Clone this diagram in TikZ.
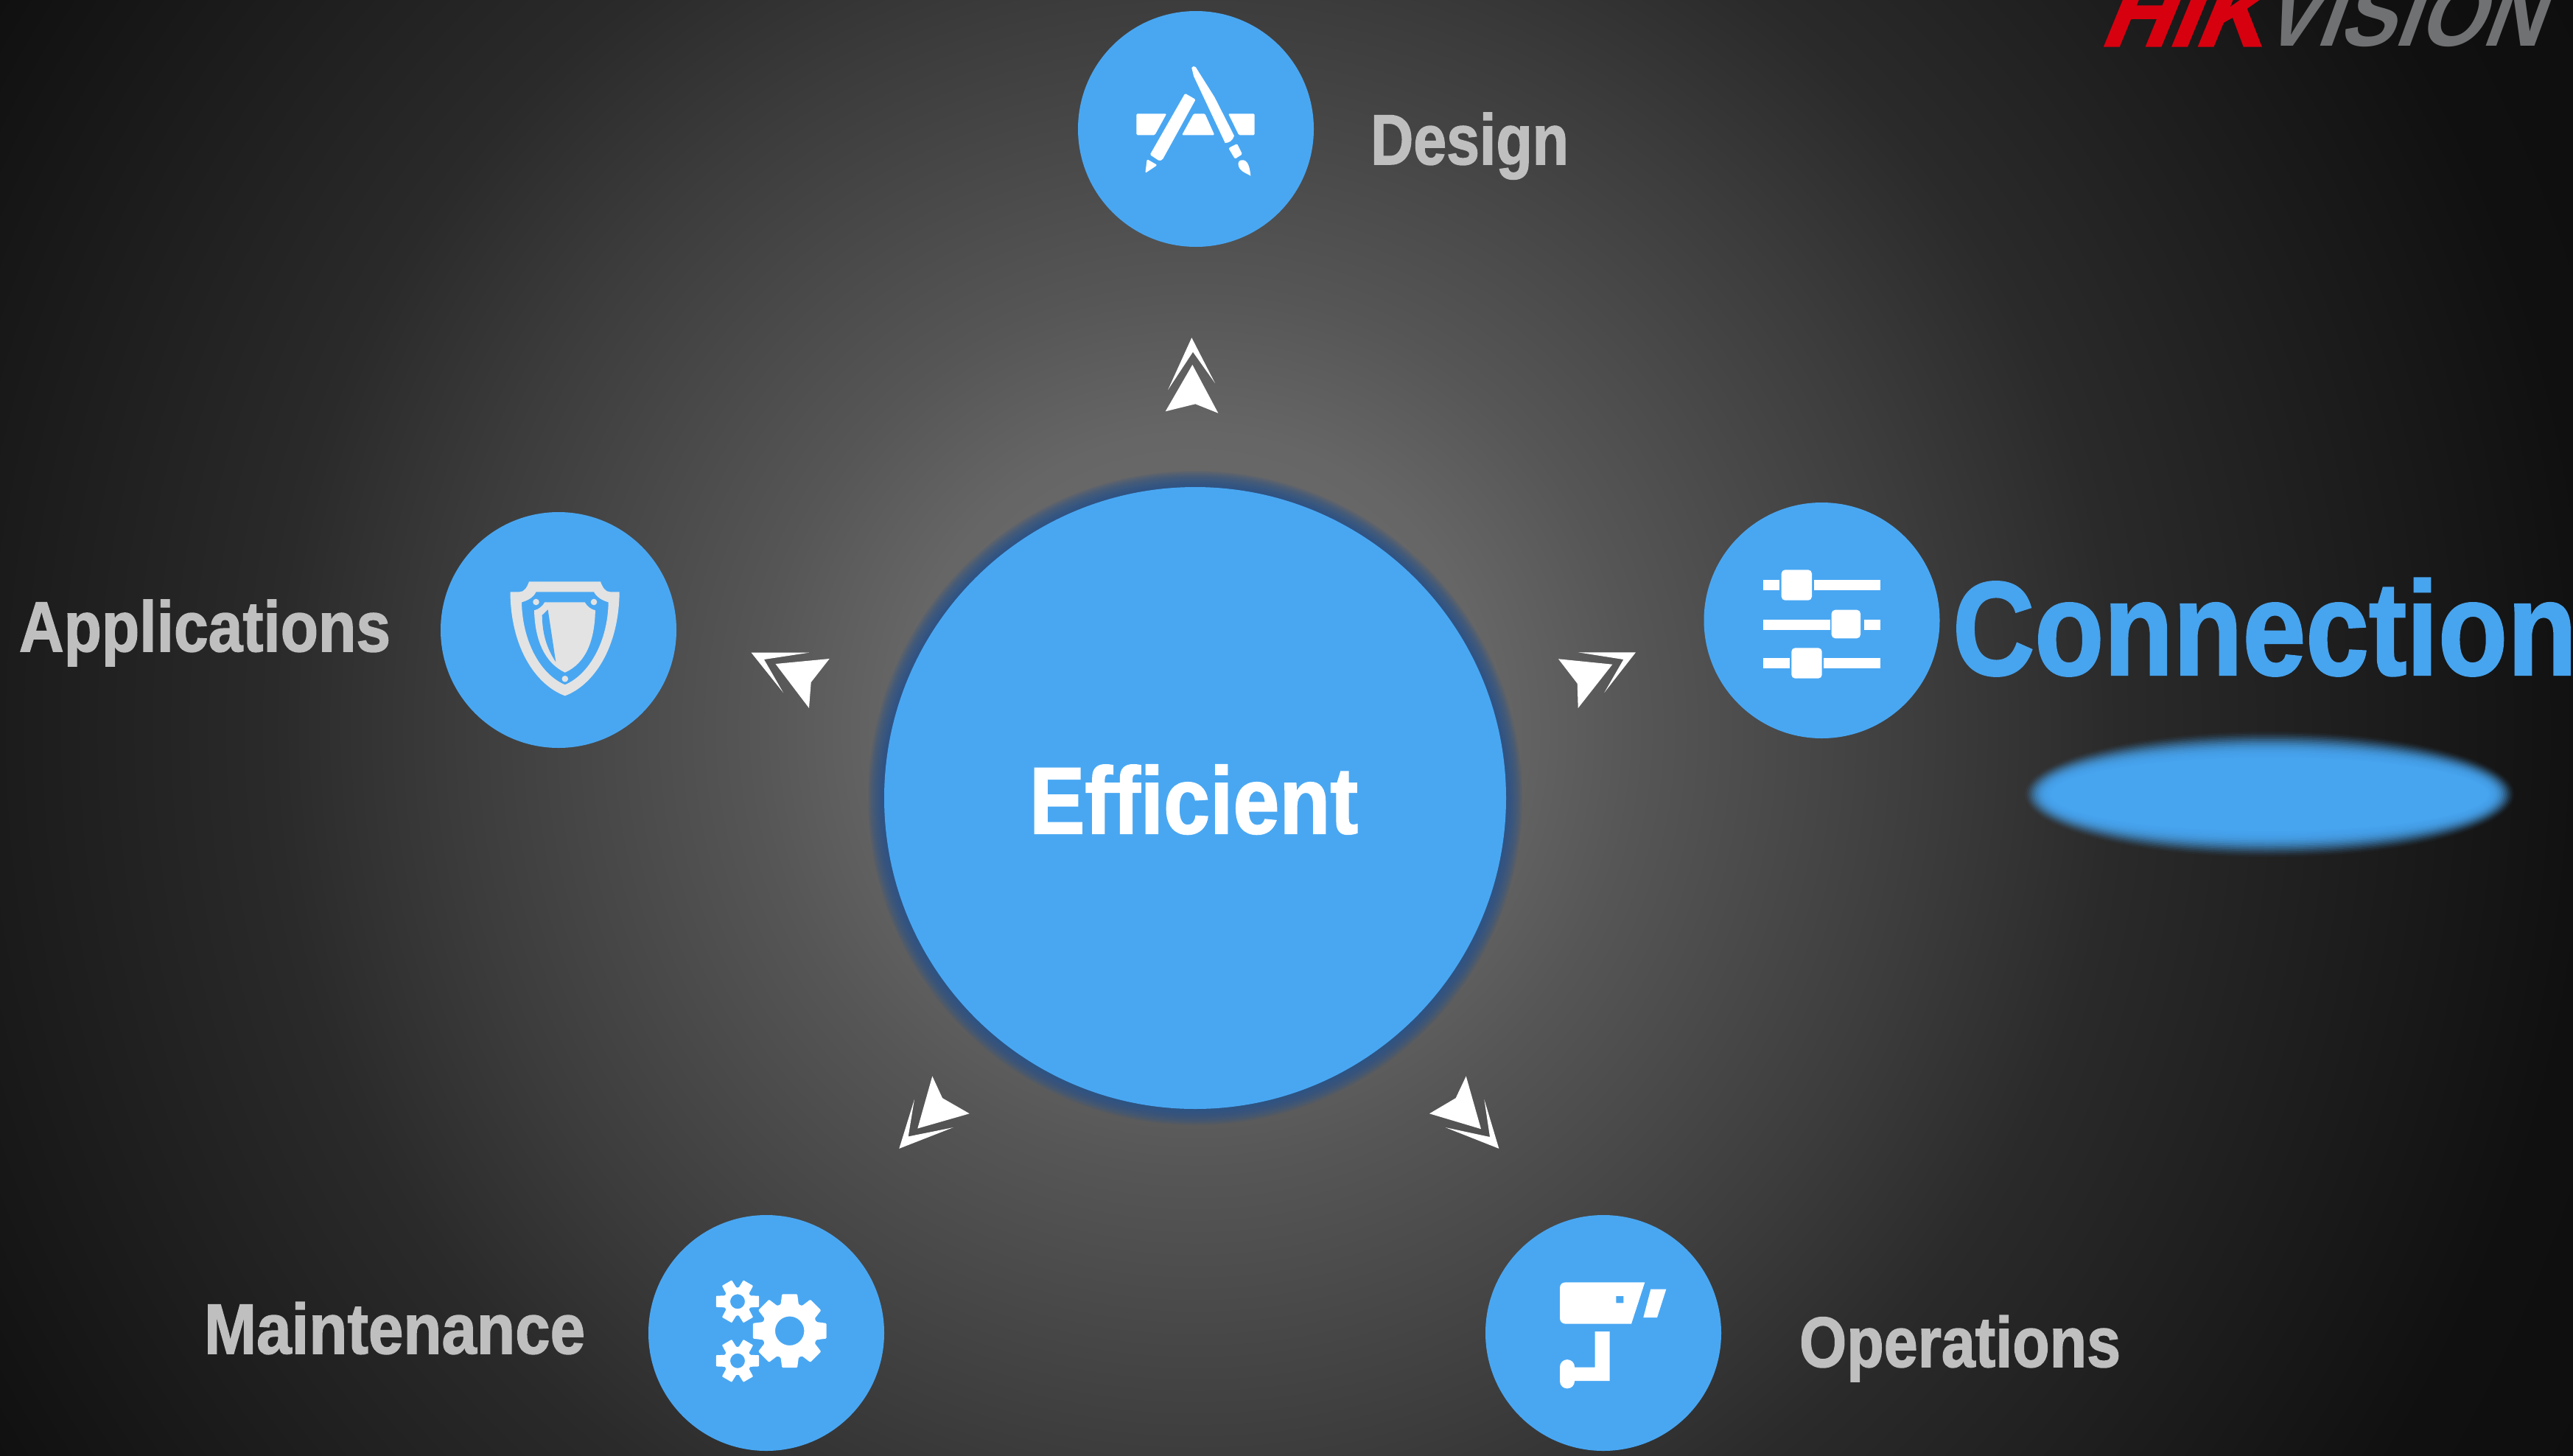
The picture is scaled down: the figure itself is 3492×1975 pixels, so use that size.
\documentclass[tikz,border=0pt]{standalone}
\usepackage{fontspec}
\usepackage{graphicx}
\setmainfont[UprightFont=* Bold,BoldFont=* Bold,FakeBold=1.6]{Liberation Sans}
\newfontfamily\hikfont[UprightFont=* Bold,BoldFont=* Bold,FakeSlant=0.41,FakeBold=2.5]{Liberation Sans}
\newfontfamily\visfont[UprightFont=* Bold,BoldFont=* Bold,FakeSlant=0.41]{Liberation Sans}
\definecolor{hubblue}{HTML}{49A7F2}
\definecolor{textblue}{HTML}{47A4EF}
\definecolor{glowblue}{HTML}{28538F}
\definecolor{labelgrey}{HTML}{BFBFBF}
\definecolor{shieldgrey}{HTML}{E3E3E3}
\definecolor{logored}{HTML}{D7000F}
\definecolor{logogrey}{HTML}{707173}
\pgfdeclareradialshading{bgshade}{\pgfpoint{0bp}{0bp}}{%
 rgb(0bp)=(0.44,0.44,0.44);
 rgb(4.35bp)=(0.40,0.40,0.40);
 rgb(6.5bp)=(0.337,0.337,0.337);
 rgb(10.85bp)=(0.235,0.235,0.235);
 rgb(13.6bp)=(0.165,0.165,0.165);
 rgb(20.65bp)=(0.063,0.063,0.063);
 rgb(25bp)=(0.05,0.05,0.05);
 rgb(50bp)=(0.05,0.05,0.05)}
\tikzset{
 hub/.style={circle,fill=hubblue,inner sep=0pt,minimum size=32mm},
 corehub/.style={circle,fill=hubblue,inner sep=0pt,minimum size=84.4mm},
 lbl/.style={anchor=base west,inner sep=0pt,outer sep=0pt,text=labelgrey},
 arrowfill/.style={fill=white},
 iconfill/.style={fill=white},
}
\begin{document}
\begin{tikzpicture}[x=0.1mm,y=-0.1mm]
\clip (0,0) rectangle (3492,1975);
\fill[black!95] (0,0) rectangle (3492,1975);
\shade[shading=bgshade] (1622,990) circle (2300);
% centre glow
\foreach \r in {444,442.5,441,439.5,438,436.5,435,433.5,432,430.5,429,427.5,426,424.5,423}
  \fill[glowblue,opacity=0.11] (1622,1083) circle (\r);
\node[corehub] (eff) at (1622,1083) {};
\node[lbl,text=white] (efftext) at (1397,1131) {\resizebox{44.6mm}{9.3mm}{Efficient}};
% outer hubs
\node[hub] (design) at (1623,175) {};
\node[hub] (conn) at (2472.5,842) {};
\node[hub] (apps) at (758,855) {};
\node[hub] (maint) at (1040,1809) {};
\node[hub] (oper) at (2176,1809) {};
% labels
\node[lbl] (designtext) at (1860,223) {\resizebox{26.9mm}{7mm}{Design}};
\node[lbl] (appstext) at (26,884) {\resizebox{50.4mm}{7mm}{Applications}};
\node[lbl] (mainttext) at (277,1837) {\resizebox{51.7mm}{7mm}{Maintenance}};
\node[lbl] (opertext) at (2442,1855) {\resizebox{43.6mm}{7mm}{Operations}};
\node[lbl,text=textblue] (conntext) at (2650,915.7) {\resizebox{84.7mm}{13.1mm}{Connection}};
% blurred ellipse
\foreach \k in {0,...,14}{
  \pgfmathsetmacro{\ringop}{0.05+\k*0.035}
  \fill[textblue,opacity=\ringop] (3080,1078) ellipse ({332-\k*2.5} and {85-\k*2.5});
}
\fill[textblue] (3080,1078) ellipse (297 and 50);
% logo
\node[anchor=base west,inner sep=0pt,text=logored,font=\hikfont] (hik) at (2848,62) {\resizebox{22mm}{8.8mm}{HIK}};
\node[anchor=base west,inner sep=0pt,text=logogrey,font=\visfont] (vis) at (3066,62) {\resizebox{38.1mm}{8.8mm}{VISION}};
% arrows
\fill[arrowfill] (1618.3,495) -- (1653.3,560.7) -- (1622.3,548.3) -- (1581.7,558.3) -- cycle;
\fill[arrowfill] (1617.3,458.3) -- (1649,520) -- (1619,477.7) -- (1585,529.3) -- cycle;
\fill[arrowfill] (2115,894.3) -- (2188.3,901.7) -- (2141.7,961) -- (2140.7,927.7) -- cycle;
\fill[arrowfill] (2141.7,885.3) -- (2220,885.3) -- (2177.3,940) -- (2203.3,895) -- cycle;
\fill[arrowfill] (1052.5,901) -- (1125.7,894) -- (1100.7,926) -- (1098,961) -- cycle;
\fill[arrowfill] (1019.6,885.7) -- (1098,885.7) -- (1037,895) -- (1063,940) -- cycle;
\fill[arrowfill] (1245.3,1531.5) -- (1265.3,1460.5) -- (1279,1490.2) -- (1315.7,1511.3) -- cycle;
\fill[arrowfill] (1220.3,1558.8) -- (1241,1491.9) -- (1232.7,1542.4) -- (1293.7,1530.1) -- cycle;
\fill[arrowfill] (2010,1532.2) -- (1989.7,1460.5) -- (1975.7,1490.2) -- (1940,1511.3) -- cycle;
\fill[arrowfill] (2034.3,1558.8) -- (2014.3,1491.9) -- (2022,1543) -- (1961.7,1530.1) -- cycle;
% design icon
\begin{scope}[iconfill,rounded corners=0.15mm]
\fill (1542.3,154.3) -- (1583.3,154.3) -- (1567.3,183.3) -- (1542.3,183.3) -- cycle;
\fill (1620,154.3) -- (1635.3,154.3) -- (1648.3,183.3) -- (1604,183.3) -- cycle;
\fill (1667,154.3) -- (1702.7,154.3) -- (1702.7,183.3) -- (1681.3,183.3) -- cycle;
\fill (1608.3,126.7) -- (1622.7,135) -- (1577.7,216.7) -- (1573.3,218.3) -- (1560.7,210) -- cycle;
\fill (1556.7,216) -- (1570.7,224) -- (1554.3,235) -- cycle;
\fill (1667.3,201) -- (1679,195) -- (1686,209.3) -- (1676,215.7) -- cycle;
\end{scope}
\fill[iconfill] (1617.3,92) .. controls (1618,89.5) and (1621,89.5) .. (1622.7,91) -- (1648.3,131.7) -- (1675,184.3) .. controls (1673,191) and (1668,194) .. (1662.7,194) -- (1620,103.3) -- cycle;
\fill[iconfill] (1680.7,224) .. controls (1680,220) and (1682,217) .. (1686,217.3) .. controls (1693,217) and (1696,225) .. (1697.3,238.7) .. controls (1692,235) and (1682,233) .. cycle;
% sliders icon
\begin{scope}[iconfill]
\fill (2393,787) rectangle (2415,801);
\fill (2461.7,787) rectangle (2552,801);
\fill (2393,841.3) rectangle (2483.7,855.3);
\fill (2530,841.3) rectangle (2552,855.3);
\fill (2393,893.3) rectangle (2429,907);
\fill (2475.3,893.3) rectangle (2552,907);
\fill[rounded corners=0.5mm] (2417.7,773.3) rectangle (2459,814.7);
\fill[rounded corners=0.5mm] (2485.7,827.7) rectangle (2525,866.3);
\fill[rounded corners=0.5mm] (2431.3,879.3) rectangle (2472.7,920.7);
\end{scope}
% shield icon
\fill[shieldgrey,even odd rule]
 (718,789.3) -- (815,789.3) .. controls (818,798) and (822,803.3) .. (828,803.3) -- (840.7,803.3)
 .. controls (840,880) and (805,930) .. (766.8,944.3) .. controls (728,930) and (693,880) .. (692.5,803.3)
 -- (705,803.3) .. controls (711,803.3) and (715,798) .. cycle
 (727.5,803.3) -- (806,803.3) .. controls (810,811) and (818,815) .. (825.7,817.3)
 .. controls (825,870) and (800,915) .. (766.8,929.3) .. controls (733,915) and (709,870) .. (708,817.3)
 .. controls (716,815) and (724,811) .. cycle;
\fill[shieldgrey] (739.3,817.3) -- (793.6,817.3) .. controls (797,823) and (802,827) .. (807.9,828.3)
 .. controls (807,870) and (795,900) .. (766.8,912.7) .. controls (740,900) and (726,870) .. (725,828.3)
 .. controls (731,827) and (736,823) .. cycle;
\fill[hubblue] (743.6,827.3) -- (735.7,835) .. controls (736,860) and (742,880) .. (754.3,898.3) -- cycle;
\fill[shieldgrey] (727.5,817) circle (4.3) (806,817) circle (4.3) (766.8,921.3) circle (4.3);
% gears
\begin{scope}[shift={(1071.7,1806.2)}]
\fill[iconfill,even odd rule,rounded corners=0.12mm]
 (-18.7:38) foreach \a in {0,45,...,315} { -- (\a-18.7:38) -- (\a-11.7:51) -- (\a+11.7:51) -- (\a+18.7:38) } -- cycle
 (0:0) circle (19.7);
\end{scope}
\begin{scope}[shift={(1001,1766.3)}]
\fill[iconfill,even odd rule,rounded corners=0.08mm]
 (-25:19) foreach \a in {0,60,...,300} { -- (\a-25:19) -- (\a-14.7:30) -- (\a+14.7:30) -- (\a+25:19) } -- cycle
 (0:0) circle (10);
\end{scope}
\begin{scope}[shift={(1001,1846.8)}]
\fill[iconfill,even odd rule,rounded corners=0.08mm]
 (-25:19) foreach \a in {0,60,...,300} { -- (\a-25:19) -- (\a-14.7:30) -- (\a+14.7:30) -- (\a+25:19) } -- cycle
 (0:0) circle (10);
\end{scope}
% camera icon
\fill[iconfill,even odd rule] (2125,1740.3) -- (2232.3,1740.3) -- (2214,1796.7) -- (2125,1796.7) .. controls (2120,1796.7) and (2117,1793) .. (2117,1789) -- (2117,1748) .. controls (2117,1743) and (2120,1740.3) .. cycle
 (2193.3,1758.8) rectangle (2203.3,1768.3);
\fill[iconfill] (2240.3,1749.6) -- (2261.3,1749.6) -- (2249,1788.1) -- (2230.3,1788.1) -- cycle;
\fill[iconfill] (2164.7,1807.2) -- (2184.7,1807.2) -- (2184.7,1874.1) -- (2130,1874.1) -- (2130,1855.7) -- (2164.7,1855.7) -- cycle;
\fill[iconfill,rounded corners=0.99mm] (2117,1845.1) rectangle (2137,1884.4);
\end{tikzpicture}
\end{document}
